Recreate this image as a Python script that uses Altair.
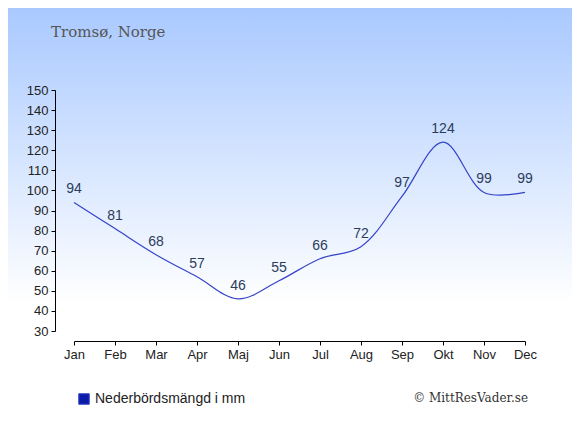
import altair as alt
import pandas as pd

months = ["Jan", "Feb", "Mar", "Apr", "Maj", "Jun", "Jul", "Aug", "Sep", "Okt", "Nov", "Dec"]
precip = [94, 81, 68, 57, 46, 55, 66, 72, 97, 124, 99, 99]
series_name = "Nederbördsmängd i mm"
title_text = "Tromsø, Norge"
credit_text = "© MittResVader.se"
y_ticks = list(range(30, 151, 10))

df = pd.DataFrame({"month": months, "value": precip, "series": [series_name] * len(months)})
one = pd.DataFrame({"k": [0]})

W, H = 451, 241
PAD = {"left": 66, "top": 82, "right": 47, "bottom": 87}
TOTAL_W = W + PAD["left"] + PAD["right"]
TOTAL_H = H + PAD["top"] + PAD["bottom"]

axis_common = dict(title=None, tickSize=4, labelPadding=3, labelFontSize=13,
                   labelFont="Liberation Sans", labelColor="#222222",
                   domainColor="#000000", tickColor="#000000", grid=False,
                   zindex=2, labelOverlap=False, labelFlush=False)

x_enc = alt.X("month:N", sort=months,
              scale=alt.Scale(type="point", domain=months, padding=0),
              axis=alt.Axis(labelAngle=0, offset=10, **axis_common))
y_enc = alt.Y("value:Q",
              scale=alt.Scale(domain=[30, 150], nice=False, zero=False),
              axis=alt.Axis(values=y_ticks, offset=19, **axis_common))

bg = alt.Chart(one).mark_rect(
    color=alt.Gradient(
        gradient="linear",
        stops=[alt.GradientStop(color="#a9c9ff", offset=0),
               alt.GradientStop(color="#ffffff", offset=0.72),
               alt.GradientStop(color="#ffffff", offset=1)],
        x1=0, x2=0, y1=0, y2=1),
).encode(
    x=alt.value(-PAD["left"]), x2=alt.value(TOTAL_W - PAD["left"]),
    y=alt.value(-PAD["top"]), y2=alt.value(TOTAL_H - PAD["top"]),
)

line = alt.Chart(df).mark_line(interpolate="catmull-rom", strokeWidth=1.2).encode(
    x=x_enc, y=y_enc,
    color=alt.Color("series:N",
                    scale=alt.Scale(range=["#3444c8"]),
                    legend=alt.Legend(title=None, orient="none", legendX=3, legendY=302,
                                      symbolType="square", symbolSize=110,
                                      symbolFillColor="#0b1ba8", symbolStrokeColor="#0b1ba8",
                                      symbolStrokeWidth=1, labelFontSize=14,
                                      labelFont="Liberation Sans", labelColor="#222222",
                                      labelOffset=4, zindex=2)),
)

labels = alt.Chart(df).mark_text(dy=-13, fontSize=14, font="Liberation Sans",
                                 color="#2b3c5c").encode(
    x=x_enc, y=y_enc, text="value:Q")

title = alt.Chart(one).mark_text(text=title_text, align="left", baseline="alphabetic",
                                 font="DejaVu Serif", fontSize=15, color="#555555").encode(
    x=alt.value(-23), y=alt.value(-53))

credit = alt.Chart(one).mark_text(text=credit_text, align="right", baseline="middle",
                                  font="DejaVu Serif", fontSize=12, color="#333333").encode(
    x=alt.value(454), y=alt.value(308))

chart = alt.layer(bg, line, labels, title, credit).properties(
    width=W, height=H,
    autosize=alt.AutoSizeParams(type="none"),
    padding=PAD,
).configure_view(stroke=None).configure(background="#ffffff")

chart.save("out.html", embed_options={"renderer": "svg", "actions": False})
